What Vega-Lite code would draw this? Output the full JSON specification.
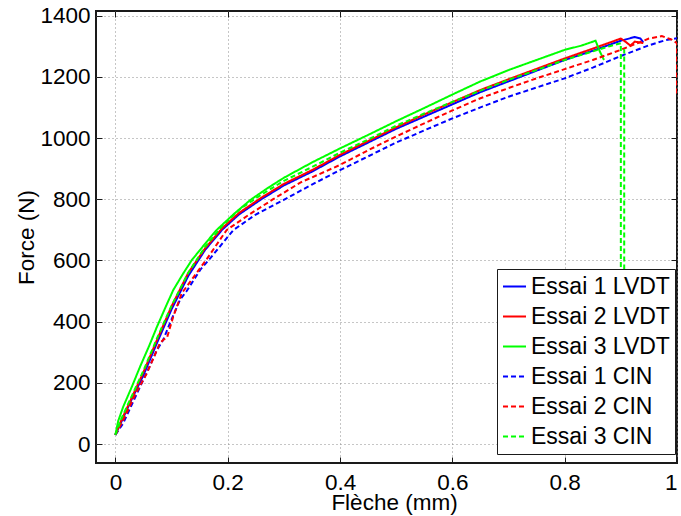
{
  "$schema": "https://vega.github.io/schema/vega-lite/v6.json",
  "width": 581,
  "height": 452,
  "autosize": {"type": "none"},
  "padding": {"left": 96, "top": 11, "right": 4, "bottom": 53},
  "background": "white",
  "config": {
    "view": {"stroke": "#1a1a1a", "strokeWidth": 2},
    "font": "Liberation Sans",
    "axis": {
      "labelFont": "Liberation Sans", "titleFont": "Liberation Sans",
      "labelFontSize": 22.5, "titleFontSize": 22.5, "titleFontWeight": "normal",
      "labelColor": "black", "titleColor": "black",
      "domain": false, "grid": true, "gridDash": [1, 3], "gridColor": "#8c8c8c", "gridWidth": 1,
      "ticks": true, "tickSize": -6, "tickColor": "#1a1a1a", "tickWidth": 1
    }
  },
  "resolve": {"axis": {"x": "independent", "y": "independent"}},
  "layer": [
    {
      "data": {"values": [
        {"s":"Essai 1 LVDT","i":0,"x":0,"y":30},{"s":"Essai 1 LVDT","i":1,"x":0.01,"y":70},{"s":"Essai 1 LVDT","i":2,"x":0.03,"y":150},{"s":"Essai 1 LVDT","i":3,"x":0.05,"y":225},{"s":"Essai 1 LVDT","i":4,"x":0.074,"y":330},{"s":"Essai 1 LVDT","i":5,"x":0.1,"y":440},{"s":"Essai 1 LVDT","i":6,"x":0.13,"y":550},{"s":"Essai 1 LVDT","i":7,"x":0.16,"y":635},{"s":"Essai 1 LVDT","i":8,"x":0.19,"y":700},{"s":"Essai 1 LVDT","i":9,"x":0.22,"y":750},{"s":"Essai 1 LVDT","i":10,"x":0.26,"y":800},{"s":"Essai 1 LVDT","i":11,"x":0.3,"y":845},{"s":"Essai 1 LVDT","i":12,"x":0.35,"y":890},{"s":"Essai 1 LVDT","i":13,"x":0.4,"y":940},{"s":"Essai 1 LVDT","i":14,"x":0.45,"y":985},{"s":"Essai 1 LVDT","i":15,"x":0.5,"y":1030},{"s":"Essai 1 LVDT","i":16,"x":0.55,"y":1070},{"s":"Essai 1 LVDT","i":17,"x":0.6,"y":1110},{"s":"Essai 1 LVDT","i":18,"x":0.65,"y":1150},{"s":"Essai 1 LVDT","i":19,"x":0.7,"y":1185},{"s":"Essai 1 LVDT","i":20,"x":0.75,"y":1220},{"s":"Essai 1 LVDT","i":21,"x":0.8,"y":1255},{"s":"Essai 1 LVDT","i":22,"x":0.85,"y":1285},{"s":"Essai 1 LVDT","i":23,"x":0.9,"y":1318},{"s":"Essai 1 LVDT","i":24,"x":0.925,"y":1330},{"s":"Essai 1 LVDT","i":25,"x":0.935,"y":1325},{"s":"Essai 1 LVDT","i":26,"x":0.94,"y":1312},

        {"s":"Essai 2 LVDT","i":0,"x":0,"y":30},{"s":"Essai 2 LVDT","i":1,"x":0.01,"y":75},{"s":"Essai 2 LVDT","i":2,"x":0.03,"y":155},{"s":"Essai 2 LVDT","i":3,"x":0.05,"y":235},{"s":"Essai 2 LVDT","i":4,"x":0.074,"y":340},{"s":"Essai 2 LVDT","i":5,"x":0.1,"y":450},{"s":"Essai 2 LVDT","i":6,"x":0.13,"y":560},{"s":"Essai 2 LVDT","i":7,"x":0.16,"y":640},{"s":"Essai 2 LVDT","i":8,"x":0.19,"y":705},{"s":"Essai 2 LVDT","i":9,"x":0.22,"y":755},{"s":"Essai 2 LVDT","i":10,"x":0.26,"y":805},{"s":"Essai 2 LVDT","i":11,"x":0.3,"y":850},{"s":"Essai 2 LVDT","i":12,"x":0.35,"y":895},{"s":"Essai 2 LVDT","i":13,"x":0.4,"y":945},{"s":"Essai 2 LVDT","i":14,"x":0.45,"y":990},{"s":"Essai 2 LVDT","i":15,"x":0.5,"y":1035},{"s":"Essai 2 LVDT","i":16,"x":0.55,"y":1077},{"s":"Essai 2 LVDT","i":17,"x":0.6,"y":1117},{"s":"Essai 2 LVDT","i":18,"x":0.65,"y":1157},{"s":"Essai 2 LVDT","i":19,"x":0.7,"y":1192},{"s":"Essai 2 LVDT","i":20,"x":0.75,"y":1226},{"s":"Essai 2 LVDT","i":21,"x":0.8,"y":1260},{"s":"Essai 2 LVDT","i":22,"x":0.85,"y":1292},{"s":"Essai 2 LVDT","i":23,"x":0.9,"y":1325},{"s":"Essai 2 LVDT","i":24,"x":0.908,"y":1315},{"s":"Essai 2 LVDT","i":25,"x":0.917,"y":1302},{"s":"Essai 2 LVDT","i":26,"x":0.925,"y":1315},{"s":"Essai 2 LVDT","i":27,"x":0.94,"y":1310},

        {"s":"Essai 3 LVDT","i":0,"x":0,"y":30},{"s":"Essai 3 LVDT","i":1,"x":0.005,"y":75},{"s":"Essai 3 LVDT","i":2,"x":0.014,"y":122},{"s":"Essai 3 LVDT","i":3,"x":0.03,"y":190},{"s":"Essai 3 LVDT","i":4,"x":0.044,"y":253},{"s":"Essai 3 LVDT","i":5,"x":0.06,"y":320},{"s":"Essai 3 LVDT","i":6,"x":0.074,"y":383},{"s":"Essai 3 LVDT","i":7,"x":0.09,"y":450},{"s":"Essai 3 LVDT","i":8,"x":0.103,"y":503},{"s":"Essai 3 LVDT","i":9,"x":0.12,"y":555},{"s":"Essai 3 LVDT","i":10,"x":0.136,"y":601},{"s":"Essai 3 LVDT","i":11,"x":0.16,"y":655},{"s":"Essai 3 LVDT","i":12,"x":0.18,"y":699},{"s":"Essai 3 LVDT","i":13,"x":0.21,"y":750},{"s":"Essai 3 LVDT","i":14,"x":0.24,"y":797},{"s":"Essai 3 LVDT","i":15,"x":0.27,"y":835},{"s":"Essai 3 LVDT","i":16,"x":0.3,"y":870},{"s":"Essai 3 LVDT","i":17,"x":0.35,"y":920},{"s":"Essai 3 LVDT","i":18,"x":0.4,"y":966},{"s":"Essai 3 LVDT","i":19,"x":0.45,"y":1010},{"s":"Essai 3 LVDT","i":20,"x":0.5,"y":1055},{"s":"Essai 3 LVDT","i":21,"x":0.55,"y":1098},{"s":"Essai 3 LVDT","i":22,"x":0.6,"y":1142},{"s":"Essai 3 LVDT","i":23,"x":0.65,"y":1185},{"s":"Essai 3 LVDT","i":24,"x":0.7,"y":1222},{"s":"Essai 3 LVDT","i":25,"x":0.75,"y":1255},{"s":"Essai 3 LVDT","i":26,"x":0.8,"y":1288},{"s":"Essai 3 LVDT","i":27,"x":0.83,"y":1302},{"s":"Essai 3 LVDT","i":28,"x":0.855,"y":1318},{"s":"Essai 3 LVDT","i":29,"x":0.862,"y":1285},{"s":"Essai 3 LVDT","i":30,"x":0.87,"y":1255},

        {"s":"Essai 1 CIN","i":0,"x":0,"y":30},{"s":"Essai 1 CIN","i":1,"x":0.014,"y":68},{"s":"Essai 1 CIN","i":2,"x":0.044,"y":187},{"s":"Essai 1 CIN","i":3,"x":0.06,"y":250},{"s":"Essai 1 CIN","i":4,"x":0.074,"y":307},{"s":"Essai 1 CIN","i":5,"x":0.085,"y":340},{"s":"Essai 1 CIN","i":6,"x":0.097,"y":394},{"s":"Essai 1 CIN","i":7,"x":0.115,"y":471},{"s":"Essai 1 CIN","i":8,"x":0.127,"y":500},{"s":"Essai 1 CIN","i":9,"x":0.151,"y":569},{"s":"Essai 1 CIN","i":10,"x":0.168,"y":605},{"s":"Essai 1 CIN","i":11,"x":0.21,"y":699},{"s":"Essai 1 CIN","i":12,"x":0.25,"y":750},{"s":"Essai 1 CIN","i":13,"x":0.299,"y":797},{"s":"Essai 1 CIN","i":14,"x":0.35,"y":848},{"s":"Essai 1 CIN","i":15,"x":0.4,"y":895},{"s":"Essai 1 CIN","i":16,"x":0.45,"y":940},{"s":"Essai 1 CIN","i":17,"x":0.5,"y":985},{"s":"Essai 1 CIN","i":18,"x":0.55,"y":1025},{"s":"Essai 1 CIN","i":19,"x":0.6,"y":1064},{"s":"Essai 1 CIN","i":20,"x":0.65,"y":1100},{"s":"Essai 1 CIN","i":21,"x":0.7,"y":1135},{"s":"Essai 1 CIN","i":22,"x":0.75,"y":1165},{"s":"Essai 1 CIN","i":23,"x":0.8,"y":1195},{"s":"Essai 1 CIN","i":24,"x":0.85,"y":1230},{"s":"Essai 1 CIN","i":25,"x":0.9,"y":1268},{"s":"Essai 1 CIN","i":26,"x":0.95,"y":1303},{"s":"Essai 1 CIN","i":27,"x":0.98,"y":1320},{"s":"Essai 1 CIN","i":28,"x":1.0,"y":1326},{"s":"Essai 1 CIN","i":29,"x":1.005,"y":1325},

        {"s":"Essai 2 CIN","i":0,"x":0,"y":30},{"s":"Essai 2 CIN","i":1,"x":0.014,"y":78},{"s":"Essai 2 CIN","i":2,"x":0.035,"y":160},{"s":"Essai 2 CIN","i":3,"x":0.056,"y":231},{"s":"Essai 2 CIN","i":4,"x":0.07,"y":290},{"s":"Essai 2 CIN","i":5,"x":0.079,"y":329},{"s":"Essai 2 CIN","i":6,"x":0.085,"y":340},{"s":"Essai 2 CIN","i":7,"x":0.092,"y":348},{"s":"Essai 2 CIN","i":8,"x":0.103,"y":416},{"s":"Essai 2 CIN","i":9,"x":0.118,"y":492},{"s":"Essai 2 CIN","i":10,"x":0.133,"y":530},{"s":"Essai 2 CIN","i":11,"x":0.163,"y":605},{"s":"Essai 2 CIN","i":12,"x":0.198,"y":699},{"s":"Essai 2 CIN","i":13,"x":0.24,"y":752},{"s":"Essai 2 CIN","i":14,"x":0.281,"y":800},{"s":"Essai 2 CIN","i":15,"x":0.33,"y":855},{"s":"Essai 2 CIN","i":16,"x":0.4,"y":912},{"s":"Essai 2 CIN","i":17,"x":0.45,"y":960},{"s":"Essai 2 CIN","i":18,"x":0.5,"y":1005},{"s":"Essai 2 CIN","i":19,"x":0.55,"y":1048},{"s":"Essai 2 CIN","i":20,"x":0.6,"y":1090},{"s":"Essai 2 CIN","i":21,"x":0.65,"y":1130},{"s":"Essai 2 CIN","i":22,"x":0.7,"y":1163},{"s":"Essai 2 CIN","i":23,"x":0.75,"y":1195},{"s":"Essai 2 CIN","i":24,"x":0.8,"y":1225},{"s":"Essai 2 CIN","i":25,"x":0.85,"y":1255},{"s":"Essai 2 CIN","i":26,"x":0.9,"y":1288},{"s":"Essai 2 CIN","i":27,"x":0.95,"y":1325},{"s":"Essai 2 CIN","i":28,"x":0.973,"y":1333},{"s":"Essai 2 CIN","i":29,"x":0.99,"y":1322},{"s":"Essai 2 CIN","i":30,"x":1.0,"y":1310},{"s":"Essai 2 CIN","i":31,"x":1.0,"y":1140},

        {"s":"Essai 3 CIN","i":0,"x":0,"y":30},{"s":"Essai 3 CIN","i":1,"x":0.01,"y":80},{"s":"Essai 3 CIN","i":2,"x":0.03,"y":160},{"s":"Essai 3 CIN","i":3,"x":0.05,"y":240},{"s":"Essai 3 CIN","i":4,"x":0.074,"y":345},{"s":"Essai 3 CIN","i":5,"x":0.1,"y":452},{"s":"Essai 3 CIN","i":6,"x":0.13,"y":560},{"s":"Essai 3 CIN","i":7,"x":0.16,"y":645},{"s":"Essai 3 CIN","i":8,"x":0.19,"y":712},{"s":"Essai 3 CIN","i":9,"x":0.22,"y":765},{"s":"Essai 3 CIN","i":10,"x":0.26,"y":815},{"s":"Essai 3 CIN","i":11,"x":0.3,"y":860},{"s":"Essai 3 CIN","i":12,"x":0.35,"y":905},{"s":"Essai 3 CIN","i":13,"x":0.4,"y":952},{"s":"Essai 3 CIN","i":14,"x":0.45,"y":995},{"s":"Essai 3 CIN","i":15,"x":0.5,"y":1040},{"s":"Essai 3 CIN","i":16,"x":0.55,"y":1080},{"s":"Essai 3 CIN","i":17,"x":0.6,"y":1118},{"s":"Essai 3 CIN","i":18,"x":0.65,"y":1155},{"s":"Essai 3 CIN","i":19,"x":0.7,"y":1190},{"s":"Essai 3 CIN","i":20,"x":0.75,"y":1222},{"s":"Essai 3 CIN","i":21,"x":0.8,"y":1255},{"s":"Essai 3 CIN","i":22,"x":0.85,"y":1283},{"s":"Essai 3 CIN","i":23,"x":0.88,"y":1300},{"s":"Essai 3 CIN","i":24,"x":0.9,"y":1310},{"s":"Essai 3 CIN","i":25,"x":0.9,"y":0},{"s":"Essai 3 CIN","i":26,"x":0.906,"y":0},{"s":"Essai 3 CIN","i":27,"x":0.906,"y":1290}
      ]},
      "mark": {"type": "line", "clip": true, "strokeWidth": 2},
      "encoding": {
        "x": {"field": "x", "type": "quantitative",
          "scale": {"domain": [-0.0345, 1.0], "nice": false, "zero": false},
          "axis": {"orient": "bottom", "values": [0, 0.2, 0.4, 0.6, 0.8, 1], "format": "~g", "title": "Flèche (mm)", "labelPadding": 14,
            "titleX": 298, "titleY": 46, "titleBaseline": "alphabetic"}},
        "y": {"field": "y", "type": "quantitative",
          "scale": {"domain": [-62, 1415], "nice": false, "zero": false},
          "axis": {"orient": "left", "values": [0, 200, 400, 600, 800, 1000, 1200, 1400], "format": "d", "title": "Force (N)", "labelPadding": 12,
            "titleX": -63, "titleBaseline": "alphabetic"}},
        "order": {"field": "i", "type": "quantitative"},
        "color": {"field": "s", "type": "nominal",
          "scale": {"domain": ["Essai 1 LVDT", "Essai 2 LVDT", "Essai 3 LVDT", "Essai 1 CIN", "Essai 2 CIN", "Essai 3 CIN"],
            "range": ["#0000ff", "#ff0000", "#00ff00", "#0000ff", "#ff0000", "#00ff00"]},
          "legend": {"title": null, "orient": "none", "legendX": 401, "legendY": 258, "symbolType": "stroke", "symbolSize": 529, "symbolStrokeWidth": 2,
            "labelFont": "Liberation Sans", "labelFontSize": 23, "labelColor": "black", "labelOffset": 4, "labelLimit": 400,
            "fillColor": "white", "strokeColor": "#1a1a1a", "padding": 5, "rowPadding": 5}},
        "strokeDash": {"field": "s", "type": "nominal",
          "scale": {"domain": ["Essai 1 LVDT", "Essai 2 LVDT", "Essai 3 LVDT", "Essai 1 CIN", "Essai 2 CIN", "Essai 3 CIN"],
            "range": [[1, 0], [1, 0], [1, 0], [5, 3], [5, 3], [5, 3]]},
          "legend": {"title": null, "orient": "none", "legendX": 401, "legendY": 258, "symbolType": "stroke", "symbolSize": 529, "symbolStrokeWidth": 2,
            "labelFont": "Liberation Sans", "labelFontSize": 23, "labelColor": "black", "labelOffset": 4, "labelLimit": 400,
            "fillColor": "white", "strokeColor": "#1a1a1a", "padding": 5, "rowPadding": 5}}
      }
    },
    {
      "data": {"values": [{"x": 0, "y": 0}]},
      "mark": {"type": "point", "opacity": 0},
      "encoding": {
        "x": {"field": "x", "type": "quantitative",
          "axis": {"orient": "top", "values": [0, 0.2, 0.4, 0.6, 0.8, 1], "labels": false, "grid": false, "title": null}},
        "y": {"field": "y", "type": "quantitative",
          "axis": {"orient": "right", "values": [0, 200, 400, 600, 800, 1000, 1200, 1400], "labels": false, "grid": false, "title": null}}
      }
    }
  ]
}
